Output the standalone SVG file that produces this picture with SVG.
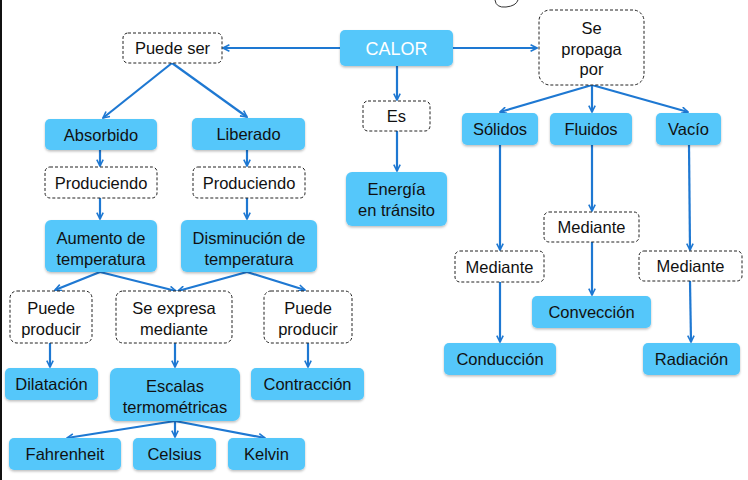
<svg xmlns="http://www.w3.org/2000/svg" width="748" height="480" viewBox="0 0 748 480">
<defs>
<marker id="ah" viewBox="0 0 10 10" refX="9" refY="5" markerWidth="8" markerHeight="8" orient="auto" markerUnits="userSpaceOnUse">
<path d="M1,1 L9,5 L1,9" fill="none" stroke="#1E78D2" stroke-width="2"/>
</marker>
<filter id="sh" x="-10%" y="-10%" width="120%" height="130%">
<feDropShadow dx="0" dy="1.5" stdDeviation="1.2" flood-color="#000" flood-opacity="0.25"/>
</filter>
</defs>
<style>
.b{fill:#55C7FA;filter:url(#sh)}
.d{fill:#fff;stroke:#222;stroke-width:1;stroke-dasharray:3,2}
text{font-family:"Liberation Sans",Arial,sans-serif;font-size:16.5px;fill:#111;text-anchor:middle}
.w{fill:#fff;font-size:18px}
.c line{stroke:#1E78D2;stroke-width:2.2;marker-end:url(#ah)}
</style>
<rect width="748" height="480" fill="#fff"/>
<rect x="0" y="0" width="2" height="480" fill="#111"/>
<path d="M495 0 Q496 8 506 7 Q516 6 518 0" fill="none" stroke="#333" stroke-width="1"/>

<g class="c">
<line x1="340" y1="48" x2="223" y2="48"/>
<line x1="453" y1="48" x2="537" y2="48"/>
<line x1="397" y1="66" x2="397" y2="100"/>
<line x1="397" y1="131" x2="397" y2="171"/>
<line x1="172" y1="63" x2="103" y2="118"/>
<line x1="172" y1="63" x2="247" y2="117"/>
<line x1="100" y1="150" x2="100" y2="166"/>
<line x1="247" y1="150" x2="247" y2="166"/>
<line x1="100" y1="198" x2="100" y2="219"/>
<line x1="247" y1="198" x2="247" y2="219"/>
<line x1="100" y1="272" x2="55" y2="290"/>
<line x1="100" y1="272" x2="176" y2="291"/>
<line x1="247" y1="272" x2="178" y2="291"/>
<line x1="247" y1="272" x2="305" y2="290"/>
<line x1="50" y1="343" x2="50" y2="367"/>
<line x1="175" y1="343" x2="175" y2="367"/>
<line x1="308" y1="343" x2="308" y2="367"/>
<line x1="175" y1="421" x2="67" y2="438"/>
<line x1="175" y1="421" x2="175" y2="437"/>
<line x1="175" y1="421" x2="265" y2="438"/>
<line x1="592" y1="85" x2="500" y2="112"/>
<line x1="592" y1="85" x2="592" y2="112"/>
<line x1="592" y1="85" x2="688" y2="112"/>
<line x1="500" y1="145" x2="500" y2="250"/>
<line x1="592" y1="145" x2="592" y2="211"/>
<line x1="689" y1="145" x2="690" y2="250"/>
<line x1="500" y1="282" x2="500" y2="342"/>
<line x1="592" y1="242" x2="592" y2="295"/>
<line x1="690" y1="281" x2="691" y2="342"/>
</g>

<g id="calor"><rect class="b" x="340" y="30" width="113" height="36" rx="5"/><text class="w" x="396.5" y="55">CALOR</text></g>
<g id="puedeser"><rect class="d" x="123" y="33" width="99" height="30" rx="5"/><text x="172.5" y="54">Puede ser</text></g>
<g id="sepropaga"><rect class="d" x="539" y="10" width="105" height="75" rx="11"/><text x="591.5" y="34">Se</text><text x="591.5" y="55">propaga</text><text x="591.5" y="75">por</text></g>
<g id="es"><rect class="d" x="363" y="101" width="67" height="30" rx="5"/><text x="396.5" y="122">Es</text></g>
<g id="energia"><rect class="b" x="346" y="172" width="101" height="54" rx="6"/><text x="396.5" y="195">Energía</text><text x="396.5" y="216">en tránsito</text></g>

<g id="absorbido"><rect class="b" x="45" y="119" width="112" height="31" rx="5"/><text x="101" y="141">Absorbido</text></g>
<g id="liberado"><rect class="b" x="192" y="118" width="113" height="32" rx="5"/><text x="248.5" y="140">Liberado</text></g>
<g id="prod1"><rect class="d" x="45" y="167" width="112" height="31" rx="5"/><text x="101" y="189">Produciendo</text></g>
<g id="prod2"><rect class="d" x="193" y="167" width="112" height="31" rx="5"/><text x="249" y="189">Produciendo</text></g>
<g id="aumento"><rect class="b" x="45" y="220" width="112" height="52" rx="6"/><text x="101" y="244">Aumento de</text><text x="101" y="265">temperatura</text></g>
<g id="disminucion"><rect class="b" x="181" y="220" width="136" height="52" rx="6"/><text x="249" y="244">Disminución de</text><text x="249" y="265">temperatura</text></g>
<g id="puedeprod1"><rect class="d" x="10" y="291" width="82" height="52" rx="7"/><text x="51" y="314">Puede</text><text x="51" y="335">producir</text></g>
<g id="seexpresa"><rect class="d" x="116" y="291" width="116" height="52" rx="7"/><text x="174" y="314">Se expresa</text><text x="174" y="335">mediante</text></g>
<g id="puedeprod2"><rect class="d" x="264" y="291" width="88" height="52" rx="7"/><text x="308" y="314">Puede</text><text x="308" y="335">producir</text></g>
<g id="dilatacion"><rect class="b" x="5" y="368" width="93" height="32" rx="5"/><text x="51.5" y="390">Dilatación</text></g>
<g id="escalas"><rect class="b" x="110" y="368" width="130" height="53" rx="7"/><text x="175" y="392">Escalas</text><text x="175" y="413">termométricas</text></g>
<g id="contraccion"><rect class="b" x="251" y="368" width="113" height="32" rx="5"/><text x="307.5" y="390">Contracción</text></g>
<g id="fahrenheit"><rect class="b" x="9" y="438" width="112" height="32" rx="5"/><text x="65" y="460">Fahrenheit</text></g>
<g id="celsius"><rect class="b" x="133" y="438" width="83" height="32" rx="5"/><text x="174.5" y="460">Celsius</text></g>
<g id="kelvin"><rect class="b" x="228" y="438" width="77" height="32" rx="5"/><text x="266.5" y="460">Kelvin</text></g>

<g id="solidos"><rect class="b" x="462" y="113" width="76" height="32" rx="5"/><text x="500" y="135">Sólidos</text></g>
<g id="fluidos"><rect class="b" x="550" y="113" width="82" height="32" rx="5"/><text x="591" y="135">Fluidos</text></g>
<g id="vacio"><rect class="b" x="656" y="113" width="65" height="32" rx="5"/><text x="688.5" y="135">Vacío</text></g>
<g id="med1"><rect class="d" x="455" y="251" width="89" height="31" rx="5"/><text x="499.5" y="273">Mediante</text></g>
<g id="med2"><rect class="d" x="544" y="212" width="95" height="30" rx="5"/><text x="591.5" y="233">Mediante</text></g>
<g id="med3"><rect class="d" x="639" y="251" width="103" height="30" rx="5"/><text x="690.5" y="272">Mediante</text></g>
<g id="conduccion"><rect class="b" x="444" y="343" width="112" height="32" rx="5"/><text x="500" y="365">Conducción</text></g>
<g id="conveccion"><rect class="b" x="532" y="296" width="119" height="32" rx="5"/><text x="591.5" y="318">Convección</text></g>
<g id="radiacion"><rect class="b" x="643" y="343" width="97" height="32" rx="5"/><text x="691.5" y="365">Radiación</text></g>
</svg>
